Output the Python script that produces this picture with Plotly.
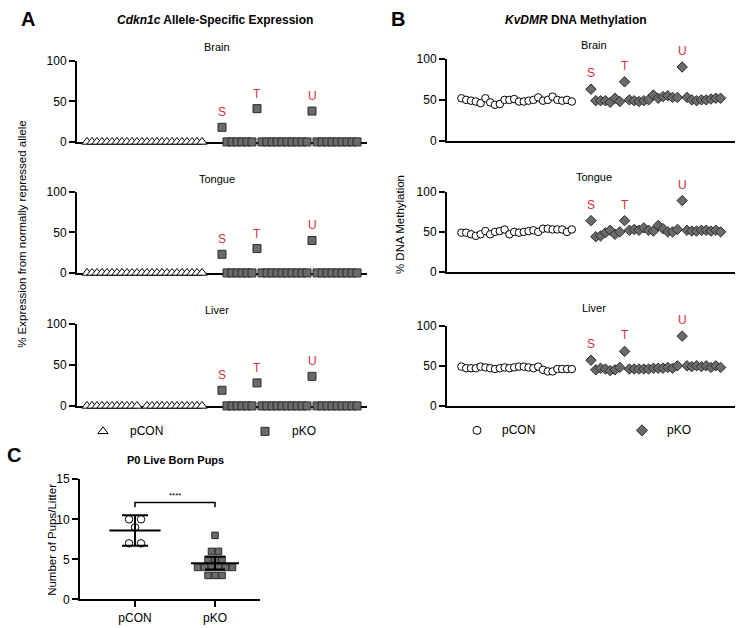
import numpy as np
import plotly.graph_objects as go

W, H = 738, 628
FONT = "Arial, Liberation Sans, Helvetica, sans-serif"
RED = "#d5303e"
GREY = "#6b6b6b"
DARK = "#2b2b2b"

# ---------------- data ----------------
tissues = ["Brain", "Tongue", "Liver"]
outlier_labels = ["S", "T", "U"]
a_label_idx = [0, 7, 18]
b_label_idx = [0, 7, 19]

# Panel A: % expression from normally repressed allele
a_pcon_brain = [0, 0, 0, 0, 0, 0, 0, 0, 0, 0, 0, 0, 0, 0, 0, 0, 0, 0, 0, 0, 0, 0, 0, 0]
a_pcon_tongue = [0, 0, 0, 0, 0, 0, 0, 0, 0, 0, 0, 0, 0, 0, 0, 0, 0, 0, 0, 0, 0, 0, 0, 0]
a_pcon_liver = [0, 0, 0, 0, 0, 0, 0, 0, 0, 0, 0, None, 0, 0, 0, 0, 0, 0, 0, 0, 0, 0, 0, 0]
a_pko_brain = [18, 0, 0, 0, 0, 0, 0, 41, 0, 0, 0, 0, 0, 0, 0, 0, 0, 0, 38, 0, 0, 0, 0, 0, 0, 0, 0, 0]
a_pko_tongue = [23, 0, 0, 0, 0, 0, 0, 30, 0, 0, 0, 0, 0, 0, 0, 0, 0, 0, 40, 0, 0, 0, 0, 0, 0, 0, 0, 0]
a_pko_liver = [19, 0, 0, 0, 0, 0, 0, 28, 0, 0, 0, 0, 0, 0, 0, 0, 0, 0, 36, 0, 0, 0, 0, 0, 0, 0, 0, 0]

# Panel B: % DNA methylation at KvDMR
b_pcon_brain = [52, 50, 49, 48, 46, 52, 47, 44, 45, 50, 50, 51, 48, 48, 49, 50, 53, 49, 50, 54, 50, 49, 50, 48]
b_pko_brain = [63, 49, 49, 49, 47, 52, 48, 72, 50, 49, 48, 49, 50, 56, 52, 54, 55, 53, 53, 90, 53, 50, 49, 50, 50, 51, 52, 52]
b_pcon_tongue = [49, 49, 47, 45, 47, 51, 47, 50, 51, 53, 47, 50, 49, 50, 51, 52, 50, 54, 54, 53, 53, 53, 50, 53]
b_pko_tongue = [64, 44, 45, 49, 52, 47, 50, 64, 52, 53, 52, 55, 52, 51, 58, 54, 50, 50, 53, 89, 52, 51, 51, 52, 52, 51, 52, 50]
b_pcon_liver = [49, 47, 47, 47, 49, 48, 47, 46, 47, 48, 47, 48, 49, 49, 48, 47, 49, 45, 43, 43, 46, 46, 46, 46]
b_pko_liver = [57, 45, 47, 46, 44, 45, 48, 68, 46, 46, 46, 46, 46, 47, 47, 47, 48, 47, 50, 87, 50, 49, 50, 49, 50, 48, 50, 48]

# Panel C: P0 live born pups
c_groups = ["pCON", "pKO"]
c_pcon = [10, 10, 9, 7, 7]
c_pko = [8, 6, 6, 5, 5, 5, 4, 4, 4, 4, 4, 4, 3, 3, 3]
c_err = [1.9, 0.8]

a_data = [(a_pcon_brain, a_pko_brain), (a_pcon_tongue, a_pko_tongue), (a_pcon_liver, a_pko_liver)]
b_data = [(b_pcon_brain, b_pko_brain), (b_pcon_tongue, b_pko_tongue), (b_pcon_liver, b_pko_liver)]


# ---------------- helpers ----------------
def px(x):
    return x / W


def py(y):
    return 1 - y / H


def sfx(n):
    return "" if n == 1 else str(n)


layout = {}
annotations = []


def add_axes(n, xpx, ypx, xr, yr, yticks, xticks=None, xticktext=None):
    s = sfx(n)
    layout["xaxis" + s] = dict(
        domain=[px(xpx[0]), px(xpx[1])], range=xr, anchor="y" + s,
        showline=True, linewidth=2, linecolor="black", showgrid=False, zeroline=False,
        ticks="outside" if xticks else "", tickvals=xticks if xticks else [],
        ticktext=xticktext, showticklabels=bool(xticks), ticklen=6, tickwidth=2,
        tickcolor="black", tickfont=dict(family=FONT, size=12, color="black"),
        layer="below traces", fixedrange=True)
    layout["yaxis" + s] = dict(
        domain=[py(ypx[1]), py(ypx[0])], range=yr, anchor="x" + s,
        showline=True, linewidth=2, linecolor="black", showgrid=False, zeroline=False,
        ticks="outside", tickvals=yticks, ticklen=6, tickwidth=2, tickcolor="black",
        tickfont=dict(family=FONT, size=12, color="black"),
        layer="below traces", fixedrange=True)


def text(x, y, t, size=11, bold=False, color="black", angle=0, xanchor="center"):
    annotations.append(dict(
        x=px(x), y=py(y), xref="paper", yref="paper", text=("<b>%s</b>" % t) if bold else t,
        showarrow=False, xanchor=xanchor, yanchor="middle", textangle=angle,
        font=dict(family=FONT, size=size, color=color)))


fig = go.Figure()

# ---------------- Panel A ----------------
a_ypx = [(55, 138), (189, 272), (324, 408)]
a_title_y = [41, 176, 310]
for i, (pcon, pko) in enumerate(a_data):
    n = i + 1
    s = sfx(n)
    add_axes(n, (77, 367), a_ypx[i], [0, 58], [0, 100], [0, 50, 100])
    xc = np.arange(len(pcon)) + 2
    xk = np.arange(len(pko)) + 29
    fig.add_trace(go.Scatter(x=xc, y=pcon, mode="markers", xaxis="x" + s, yaxis="y" + s,
                             cliponaxis=False, showlegend=False,
                             marker=dict(symbol="triangle-up", size=9, color="white",
                                         line=dict(color="black", width=1))))
    fig.add_trace(go.Scatter(x=xk, y=pko, mode="markers", xaxis="x" + s, yaxis="y" + s,
                             cliponaxis=False, showlegend=False,
                             marker=dict(symbol="square", size=8, color=GREY,
                                         line=dict(color=DARK, width=1))))
    for lab, idx in zip(outlier_labels, a_label_idx):
        annotations.append(dict(x=xk[idx], y=pko[idx], xref="x" + s, yref="y" + s, text=lab,
                                showarrow=False, yshift=15,
                                font=dict(family=FONT, size=12, color=RED)))
    text(217, a_title_y[i], tissues[i], size=11)

# ---------------- Panel B ----------------
b_ypx = [(53, 137), (189, 271), (326, 408)]
for i, (pcon, pko) in enumerate(b_data):
    n = i + 4
    s = sfx(n)
    add_axes(n, (447, 735), b_ypx[i], [0, 60], [0, 100], [0, 50, 100])
    xc = np.arange(len(pcon)) + 3
    xk = np.arange(len(pko)) + 30
    fig.add_trace(go.Scatter(x=xc, y=pcon, mode="markers", xaxis="x" + s, yaxis="y" + s,
                             cliponaxis=False, showlegend=False,
                             marker=dict(symbol="circle", size=7.5, color="white",
                                         line=dict(color="black", width=1))))
    fig.add_trace(go.Scatter(x=xk, y=pko, mode="markers", xaxis="x" + s, yaxis="y" + s,
                             cliponaxis=False, showlegend=False,
                             marker=dict(symbol="diamond", size=8, color=GREY,
                                         line=dict(color=DARK, width=1))))
    for lab, idx in zip(outlier_labels, b_label_idx):
        annotations.append(dict(x=xk[idx], y=pko[idx], xref="x" + s, yref="y" + s, text=lab,
                                showarrow=False, yshift=16,
                                font=dict(family=FONT, size=12, color=RED)))
    text(594, a_title_y[i] - 2, tissues[i], size=11)

# ---------------- Panel C ----------------
add_axes(7, (80, 260), (483, 606), [0.3125, 2.5625], [0, 15], [0, 5, 10, 15],
         xticks=[1, 2], xticktext=c_groups)


def swarm(vals, spacing):
    vals = np.asarray(vals, dtype=float)
    off = np.zeros(len(vals))
    for v in np.unique(vals):
        idx = np.where(vals == v)[0]
        k = len(idx)
        off[idx] = (np.arange(k) - (k - 1) / 2) * spacing
    return off


unit = 80.0  # px per category unit
for gi, (vals, sym, col, lcol, sp, size) in enumerate([
        (c_pcon, "circle", "white", "black", 12, 7.5),
        (c_pko, "square", GREY, DARK, 7, 6.5)]):
    xpos = gi + 1
    xs = xpos + swarm(vals, sp) / unit
    mean = float(np.mean(vals))
    fig.add_trace(go.Scatter(x=xs, y=vals, mode="markers", xaxis="x7", yaxis="y7",
                             cliponaxis=False, showlegend=False,
                             marker=dict(symbol=sym, size=size, color=col,
                                         line=dict(color=lcol, width=1))))
    hw = 0.32 if gi == 0 else 0.30
    fig.add_trace(go.Scatter(x=[xpos - hw, xpos + hw], y=[mean, mean], mode="lines",
                             xaxis="x7", yaxis="y7", showlegend=False,
                             line=dict(color="black", width=2)))
    fig.add_trace(go.Scatter(x=[xpos], y=[mean], mode="markers", xaxis="x7", yaxis="y7",
                             showlegend=False, marker=dict(size=1, color="rgba(0,0,0,0)"),
                             error_y=dict(type="data", array=[c_err[gi]], visible=True,
                                          color="black", thickness=2,
                                          width=13 if gi == 0 else 10)))

# significance bracket
br = 12.1
fig.add_trace(go.Scatter(x=[1, 1, 2, 2], y=[br - 0.6, br, br, br - 0.6], mode="lines",
                         xaxis="x7", yaxis="y7", showlegend=False,
                         line=dict(color="black", width=1.5)))
annotations.append(dict(x=1.5, y=br, xref="x7", yref="y7", text="****", showarrow=False,
                        yshift=7, font=dict(family=FONT, size=8, color="black")))

# ---------------- legends (overlay axis in pixel units) ----------------
layout["xaxis8"] = dict(domain=[0, 1], range=[0, W], anchor="y8", visible=False, fixedrange=True)
layout["yaxis8"] = dict(domain=[0, 1], range=[H, 0], anchor="x8", visible=False, fixedrange=True)
legend_items = [
    (103, 434, "triangle-up", 9, "white", "black", 128, "pCON"),
    (265, 434, "square", 8, GREY, DARK, 290, "pKO"),
    (477, 433, "circle", 8, "white", "black", 500, "pCON"),
    (642, 433, "diamond", 8.5, GREY, DARK, 665, "pKO"),
]
for (lx, ly, sym, sz, col, lcol, tx, lab) in legend_items:
    fig.add_trace(go.Scatter(x=[lx], y=[ly], mode="markers", xaxis="x8", yaxis="y8",
                             showlegend=False, cliponaxis=False,
                             marker=dict(symbol=sym, size=sz, color=col,
                                         line=dict(color=lcol, width=1))))
    text(tx, ly, lab, size=12, xanchor="left")

# ---------------- titles ----------------
text(28, 12, "A", size=20, bold=True)
text(215, 13, "<i>Cdkn1c</i> Allele-Specific Expression", size=12, bold=True)
text(398, 12, "B", size=20, bold=True)
text(576, 13, "<i>KvDMR</i> DNA Methylation", size=12, bold=True)
text(14, 458, "C", size=20, bold=True)
text(175, 463, "P0 Live Born Pups", size=11, bold=True)

text(22, 232, "% Expression from normally repressed allele", size=11.5, angle=-90)
text(400, 222, "% DNA Methylation", size=11.5, angle=-90)
text(52, 545, "Number of Pups/Litter", size=11.5, angle=-90)

layout.update(dict(
    width=W, height=H, margin=dict(l=0, r=0, t=0, b=0),
    paper_bgcolor="white", plot_bgcolor="rgba(0,0,0,0)", showlegend=False,
    font=dict(family=FONT, size=11, color="black"),
    annotations=annotations))
fig.update_layout(**layout)
fig.write_html("out.html", config={"displayModeBar": False},
               post_script="document.body.style.margin='0px';")
